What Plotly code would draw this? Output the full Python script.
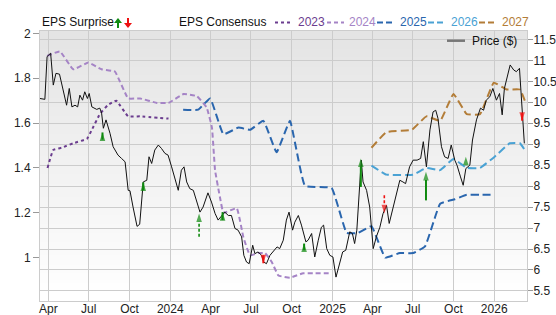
import plotly.graph_objects as go

# ---------------- data ----------------
price_dates = ["2023-03-13","2023-03-24","2023-03-29","2023-04-03","2023-04-06","2023-04-12","2023-04-18","2023-04-26","2023-05-05","2023-05-12",
"2023-05-18","2023-05-24","2023-05-31","2023-06-06","2023-06-11","2023-06-17","2023-06-22","2023-06-28","2023-07-02","2023-07-08",
"2023-07-19","2023-07-26","2023-07-30","2023-08-03","2023-08-09","2023-08-18","2023-08-25","2023-08-31","2023-09-05","2023-09-13",
"2023-09-21","2023-09-28","2023-10-02","2023-10-09","2023-10-18","2023-10-24","2023-11-01","2023-11-09","2023-11-14","2023-11-20",
"2023-11-27","2023-12-05","2023-12-12","2023-12-20","2023-12-27","2024-01-04","2024-01-19","2024-01-26","2024-02-01","2024-02-07",
"2024-02-14","2024-02-22","2024-02-29","2024-03-08","2024-03-15","2024-03-26","2024-04-03","2024-04-11","2024-04-18","2024-04-26",
"2024-05-03","2024-05-11","2024-05-18","2024-05-26","2024-06-02","2024-06-10","2024-06-15","2024-06-21","2024-06-27","2024-07-05",
"2024-07-10","2024-07-17","2024-07-25","2024-07-30","2024-08-05","2024-08-13","2024-08-20","2024-08-29","2024-09-04","2024-09-12",
"2024-09-19","2024-09-25","2024-10-03","2024-10-08","2024-10-16","2024-10-23","2024-11-02","2024-11-07","2024-11-15","2024-11-22",
"2024-11-30","2024-12-07","2024-12-12","2024-12-19","2024-12-26","2025-01-02","2025-01-09","2025-01-14","2025-01-24","2025-01-31",
"2025-02-09","2025-02-15","2025-02-20","2025-02-25","2025-03-02","2025-03-07","2025-03-11","2025-03-19","2025-03-26","2025-04-03",
"2025-04-10","2025-04-18","2025-04-25","2025-05-03","2025-05-09","2025-05-18","2025-05-25","2025-06-02","2025-06-09","2025-06-15",
"2025-06-24","2025-07-02","2025-07-11","2025-07-19","2025-07-25","2025-08-01","2025-08-09","2025-08-16","2025-08-22","2025-08-27",
"2025-09-04","2025-09-11","2025-09-19","2025-09-26","2025-10-04","2025-10-09","2025-10-17","2025-10-23","2025-10-29","2025-11-07",
"2025-11-13","2025-11-22","2025-12-01","2025-12-08","2025-12-14","2025-12-22","2025-12-29","2026-01-06","2026-01-13","2026-01-19",
"2026-01-24","2026-01-30","2026-02-06","2026-02-14","2026-02-20","2026-02-27","2026-03-05","2026-03-10"]
price_vals = [10.09,10.07,11.09,11.13,11.17,10.41,10.69,10.67,10.21,9.93,
10.33,9.89,9.93,9.89,10.17,10.05,10.25,10.09,10.21,9.89,
9.83,9.86,9.74,9.38,9.58,9.26,8.94,8.82,8.74,8.66,
8.58,7.90,7.89,7.50,7.04,7.09,8.10,8.14,8.70,8.54,
8.86,8.98,8.90,8.78,8.74,8.46,7.90,8.38,8.46,8.10,
7.94,7.90,7.66,7.38,7.50,7.84,7.62,7.35,7.19,7.30,
7.38,7.30,7.30,6.99,6.95,6.79,6.35,6.19,6.15,6.59,
6.39,6.43,6.35,6.19,6.15,6.35,6.43,6.55,6.51,6.71,
7.19,7.38,6.95,7.14,7.30,7.07,6.67,6.71,6.87,6.31,
6.71,7.02,7.07,6.51,6.35,6.31,5.83,6.03,6.43,6.47,
6.91,6.87,6.63,6.95,7.94,8.62,8.10,7.90,7.50,6.51,
6.79,7.02,7.34,7.54,7.11,7.50,7.74,8.14,8.10,8.06,
8.46,8.62,8.62,8.66,9.06,8.46,9.34,9.77,9.81,9.62,
8.94,8.70,8.66,8.98,8.62,8.50,8.22,8.02,8.42,8.50,
9.10,9.58,9.86,9.81,10.05,10.13,10.33,10.05,10.21,9.70,
10.33,10.61,10.89,10.77,10.73,10.81,9.93,9.02]

eps2023_dates = ["2023-03-30","2023-04-12","2023-05-01","2023-05-27","2023-06-27","2023-07-08","2023-07-26","2023-08-13","2023-09-01","2023-09-28","2023-10-25","2023-12-28"]
eps2023_vals = [1.40,1.48,1.49,1.51,1.53,1.57,1.64,1.68,1.70,1.63,1.63,1.62]

eps2024_dates = ["2023-03-29","2023-04-27","2023-05-27","2023-06-30","2023-07-30","2023-08-29","2023-09-28","2023-10-25","2023-12-02","2023-12-28",
"2024-01-31","2024-03-01","2024-03-23","2024-04-04","2024-04-11","2024-04-22","2024-04-30","2024-05-30","2024-06-14","2024-06-29",
"2024-07-18","2024-08-02","2024-08-17","2024-09-01","2024-09-27","2024-10-27","2024-11-23","2024-12-26"]
eps2024_vals = [1.90,1.92,1.84,1.87,1.84,1.83,1.71,1.71,1.69,1.69,
1.73,1.72,1.67,1.58,1.39,1.27,1.20,1.22,1.09,1.01,
1.02,1.02,0.98,0.92,0.91,0.93,0.93,0.93]

eps2025_dates = ["2024-01-30","2024-03-04","2024-03-31","2024-04-30","2024-06-03","2024-06-29","2024-07-29","2024-08-28","2024-09-27","2024-10-31",
"2024-12-30","2025-02-02","2025-02-28","2025-03-30","2025-04-30","2025-06-02","2025-07-02","2025-07-29","2025-09-01","2025-10-04",
"2025-10-31","2025-11-30","2025-12-30"]
eps2025_vals = [1.66,1.66,1.71,1.55,1.58,1.57,1.61,1.47,1.61,1.32,
1.31,1.11,1.11,1.14,1.00,1.02,1.02,1.05,1.24,1.26,
1.28,1.28,1.28]

eps2026_dates = ["2025-03-30","2025-05-03","2025-07-02","2025-08-01","2025-09-01","2025-10-01","2025-10-31","2025-11-30","2026-01-02","2026-02-05","2026-02-28","2026-03-11"]
eps2026_vals = [1.41,1.37,1.37,1.40,1.39,1.44,1.40,1.40,1.45,1.51,1.51,1.48]

eps2027_dates = ["2025-03-30","2025-05-03","2025-06-29","2025-08-01","2025-09-01","2025-10-01","2025-10-31","2025-11-30","2025-12-31","2026-01-29","2026-02-28","2026-03-11"]
eps2027_vals = [1.49,1.56,1.57,1.63,1.61,1.73,1.64,1.64,1.78,1.75,1.75,1.70]

surprise_dates = ["2023-08-01","2023-11-01","2024-03-06","2024-04-28","2024-07-29","2024-10-29","2025-03-06","2025-04-28","2025-07-31","2025-10-29","2026-03-05"]
surprise_from = [9.11,7.90,6.79,7.19,6.35,6.47,7.98,7.78,7.66,8.50,9.74]
surprise_to = [9.28,8.09,7.35,7.38,6.16,6.63,8.66,7.35,8.34,8.70,9.56]
surprise_estimated = [False,False,True,False,False,False,False,True,False,False,False]

x_tickvals = ["2023-04-01","2023-07-01","2023-10-01","2024-01-01","2024-04-01","2024-07-01","2024-10-01",
              "2025-01-01","2025-04-01","2025-07-01","2025-10-01","2026-01-01"]
x_ticktext = ["Apr","Jul","Oct","2024","Apr","Jul","Oct","2025","Apr","Jul","Oct","2026"]
eps_ticks = [1.0,1.2,1.4,1.6,1.8,2.0]
eps_ticktext = ["1","1.2","1.4","1.6","1.8","2"]
price_ticks = [5.5,6,6.5,7,7.5,8,8.5,9,9.5,10,10.5,11,11.5]
price_ticktext = ["5.5","6","6.5","7","7.5","8","8.5","9","9.5","10","10.5","11","11.5"]

# ---------------- styling ----------------
FONT = "Liberation Sans, Arial, Helvetica, sans-serif"
C23, C24, C25, C26, C27 = "#6b3d8f", "#a584c6", "#2a66ae", "#4aa2d4", "#b37d38"
GREEN, RED = "#0f8a0f", "#ee1111"

W, H = 556, 315
ML, MR, MT, MB = 40, 29, 31, 14
PW, PH = W - ML - MR, H - MT - MB

def px(xp):
    return (xp - ML) / PW

def py(yp):
    return (H - MB - yp) / PH

fig = go.Figure()

series = [
    ("2023", eps2023_dates, eps2023_vals, C23, "dot"),
    ("2024", eps2024_dates, eps2024_vals, C24, "5px,3px"),
    ("2025", eps2025_dates, eps2025_vals, C25, "8px,4px"),
    ("2026", eps2026_dates, eps2026_vals, C26, "8px,4px"),
    ("2027", eps2027_dates, eps2027_vals, C27, "8px,4px"),
]
for name, d, v, c, dash in series:
    fig.add_trace(go.Scatter(x=d, y=v, mode="lines", name=name, yaxis="y",
                             line=dict(color=c, width=2, dash=dash, shape="spline", smoothing=0.3),
                             showlegend=False, hoverinfo="skip"))

fig.add_trace(go.Scatter(x=price_dates, y=price_vals, mode="lines", name="Price ($)", yaxis="y2",
                         line=dict(color="#111111", width=1), showlegend=False))

for d, f, t, est in zip(surprise_dates, surprise_from, surprise_to, surprise_estimated):
    col = GREEN if t > f else RED
    fig.add_trace(go.Scatter(x=[d, d], y=[f, t], mode="lines+markers", yaxis="y2",
                             line=dict(color=col, width=2 if not est else 1.6, dash="3px,2px" if est else "solid"),
                             marker=dict(symbol="arrow", angleref="previous", size=[0, 9], color=col,
                                         line=dict(width=0)),
                             showlegend=False, hoverinfo="skip"))

# gradient background
n = 60
shapes = []
for i in range(n):
    t = i / (n - 1)
    g = int(round(228 + (255 - 228) * t))
    shapes.append(dict(type="rect", xref="paper", yref="paper", x0=0, x1=1,
                       y1=1 - i / n + 0.002, y0=1 - (i + 1) / n - 0.002,
                       fillcolor=f"rgb({g},{g},{g})", line=dict(width=0), layer="below"))

# legend samples
leg_y = py(22.5)
samples = [(275, 293, C23, "dot"), (327, 344, C24, "4px,3px"), (377, 395, C25, "6px,3px"),
           (428, 446, C26, "6px,3px"), (479, 497, C27, "6px,3px")]
for x0, x1, c, dash in samples:
    shapes.append(dict(type="line", xref="paper", yref="paper", x0=px(x0), x1=px(x1), y0=leg_y, y1=leg_y,
                       line=dict(color=c, width=2, dash=dash)))
shapes.append(dict(type="line", xref="paper", yref="paper", x0=px(447), x1=px(465), y0=py(40.7), y1=py(40.7),
                   line=dict(color="#777777", width=2.5)))

annotations = [
    dict(text="EPS Surprise", x=px(40), y=py(22), xref="paper", yref="paper", xanchor="left", yanchor="middle",
         showarrow=False, font=dict(size=12, color="#111", family=FONT)),
    dict(text="EPS Consensus", x=px(177), y=py(22), xref="paper", yref="paper", xanchor="left", yanchor="middle",
         showarrow=False, font=dict(size=12, color="#111", family=FONT)),
    dict(text="Price ($)", x=px(470), y=py(41), xref="paper", yref="paper", xanchor="left", yanchor="middle",
         showarrow=False, font=dict(size=12, color="#111", family=FONT)),
]
for (x0, x1, c, dash), name in zip(samples, ["2023", "2024", "2025", "2026", "2027"]):
    annotations.append(dict(text=name, x=px(x1 + 3), y=py(22), xref="paper", yref="paper",
                            xanchor="left", yanchor="middle", showarrow=False,
                            font=dict(size=12, color=c, family=FONT)))

# legend arrows (shaft + head)
shapes.append(dict(type="line", xref="paper", yref="paper", x0=px(118), x1=px(118), y0=py(28), y1=py(21),
                   line=dict(color=GREEN, width=2)))
shapes.append(dict(type="path", xref="paper", yref="paper",
                   path=f"M {px(114)},{py(23)} L {px(122)},{py(23)} L {px(118)},{py(18)} Z",
                   fillcolor=GREEN, line=dict(width=0)))
shapes.append(dict(type="line", xref="paper", yref="paper", x0=px(128), x1=px(128), y0=py(18), y1=py(25),
                   line=dict(color=RED, width=2)))
shapes.append(dict(type="path", xref="paper", yref="paper",
                   path=f"M {px(124)},{py(23)} L {px(132)},{py(23)} L {px(128)},{py(28)} Z",
                   fillcolor=RED, line=dict(width=0)))

fig.update_layout(
    width=W, height=H,
    margin=dict(l=ML, r=MR, t=MT, b=MB, pad=0, autoexpand=False),
    paper_bgcolor="white", plot_bgcolor="white",
    font=dict(family=FONT, size=12, color="#222"),
    shapes=shapes, annotations=annotations,
    showlegend=False,
    xaxis=dict(type="date", range=["2023-03-13", "2026-03-16"], tickvals=x_tickvals, ticktext=x_ticktext,
               showgrid=True, gridcolor="#cccccc", gridwidth=1, showline=True, mirror=True,
               linecolor="#cccccc", linewidth=1, ticks="", tickfont=dict(size=12, color="#222"),
               ticklabelstandoff=-3, zeroline=False, automargin=False),
    yaxis=dict(range=[0.806, 2.011], tickvals=eps_ticks, ticktext=eps_ticktext, showgrid=False,
               ticks="outside", ticklen=6, tickcolor="#999999", showline=True, linecolor="#cccccc",
               zeroline=False, tickfont=dict(size=12, color="#222"), automargin=False),
    yaxis2=dict(range=[5.26, 11.70], tickvals=price_ticks, ticktext=price_ticktext, overlaying="y",
                side="right", showgrid=True, gridcolor="#cccccc", gridwidth=1, ticks="outside", ticklen=5,
                tickcolor="#999999", showline=True, linecolor="#cccccc", zeroline=False,
                ticklabelstandoff=-2, tickfont=dict(size=12, color="#222"), automargin=False),
)

fig.write_html("out.html")
